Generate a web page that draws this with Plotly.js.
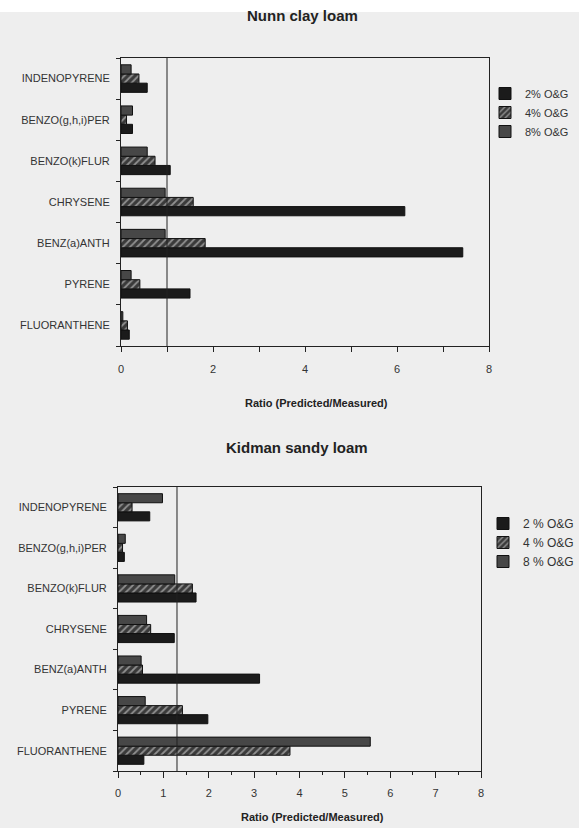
<!DOCTYPE html>
<html>
<head>
<meta charset="utf-8">
<script src="https://cdn.plot.ly/plotly-3.0.1.min.js"></script>
<style>
html,body{margin:0;padding:0;}
body{background:linear-gradient(to bottom,#ffffff 0px,#ffffff 12px,#eeeeee 12px,#eeeeee 100%);width:579px;height:828px;overflow:hidden;}
#chart{width:579px;height:828px;}
</style>
</head>
<body>
<div id="chart"></div>
<script>
// Categories (bottom to top)
const categories = ['FLUORANTHENE','PYRENE','BENZ(a)ANTH','CHRYSENE','BENZO(k)FLUR','BENZO(g,h,i)PER','INDENOPYRENE'];

// Nunn clay loam ratios
const nunn2 = [0.18, 1.50, 7.43, 6.17, 1.07, 0.25, 0.57];
const nunn4 = [0.14, 0.41, 1.83, 1.57, 0.74, 0.12, 0.39];
const nunn8 = [0.04, 0.22, 0.96, 0.96, 0.57, 0.25, 0.22];

// Kidman sandy loam ratios
const kid2 = [0.57, 1.98, 3.12, 1.24, 1.72, 0.14, 0.70];
const kid4 = [3.79, 1.42, 0.54, 0.72, 1.64, 0.10, 0.31];
const kid8 = [5.56, 0.60, 0.51, 0.63, 1.25, 0.16, 0.98];

// Legend labels
const nunnNames = ['2% O&G', '4% O&G', '8% O&G'];
const kidNames = ['2 % O&G', '4 % O&G', '8 % O&G'];

// Reference lines
const nunnRef = 1;
const kidRef = 1.3;

// Axis ticks
const nunnTicks = [0, 2, 4, 6, 8];
const kidTicks = [0, 1, 2, 3, 4, 5, 6, 7, 8];

const FONT = 'Liberation Sans, Arial, Helvetica, sans-serif';
const C2 = '#1b1b1b', C4 = '#3a3a3a', C8 = '#474747';
const LINE = {color: '#111', width: 1};

function mk(vals, name, color, xa, ya, leg, hatched) {
  const m = {color: color, line: LINE};
  if (hatched) m.pattern = {shape: '/', bgcolor: C4, fgcolor: '#909090', size: 5, solidity: 0.35};
  return {type: 'bar', orientation: 'h', x: vals, y: categories, name: name,
          marker: m, xaxis: xa, yaxis: ya, legend: leg, showlegend: true};
}

const data = [
  mk(nunn2, nunnNames[0], C2, 'x', 'y', 'legend', false),
  mk(nunn4, nunnNames[1], C4, 'x', 'y', 'legend', true),
  mk(nunn8, nunnNames[2], C8, 'x', 'y', 'legend', false),
  mk(kid2, kidNames[0], C2, 'x2', 'y2', 'legend2', false),
  mk(kid4, kidNames[1], C4, 'x2', 'y2', 'legend2', true),
  mk(kid8, kidNames[2], C8, 'x2', 'y2', 'legend2', false)
];

const W = 579, H = 828;
const px = v => v / W;
const py = v => 1 - v / H;

const axBase = {showline: true, linecolor: '#222', linewidth: 1, mirror: true, showgrid: false, zeroline: false,
                tickfont: {family: FONT, size: 11, color: '#333'}, tickcolor: '#222'};

const layout = {
  width: W, height: H,
  margin: {l: 0, r: 0, t: 0, b: 0},
  paper_bgcolor: 'rgba(0,0,0,0)',
  plot_bgcolor: '#eeeeee',
  font: {family: FONT, color: '#222'},
  barmode: 'group', bargap: 0.33, bargroupgap: 0,
  xaxis: Object.assign({}, axBase, {domain: [px(121), px(489)], anchor: 'y', range: [0, 8],
    tickvals: nunnTicks, ticks: 'outside', ticklen: 5, ticklabelstandoff: 8,
    minor: {dtick: 1, ticks: 'outside', ticklen: 5, tickcolor: '#222'}}),
  yaxis: Object.assign({}, axBase, {domain: [py(346), py(58)], anchor: 'x', type: 'category',
    tickson: 'boundaries', ticks: 'outside', ticklen: 4, ticklabelstandoff: 8}),
  xaxis2: Object.assign({}, axBase, {domain: [px(118), px(481)], anchor: 'y2', range: [0, 8],
    tickvals: kidTicks, ticks: 'outside', ticklen: 6, ticklabelstandoff: 6,
    minor: {dtick: 0.5, ticks: 'outside', ticklen: 3, tickcolor: '#222'}}),
  yaxis2: Object.assign({}, axBase, {domain: [py(771), py(487)], anchor: 'x2', type: 'category',
    tickson: 'boundaries', ticks: 'outside', ticklen: 4, ticklabelstandoff: 8}),
  legend: {x: px(485), y: py(79), xanchor: 'left', yanchor: 'top', bgcolor: 'rgba(0,0,0,0)',
    traceorder: 'normal', font: {family: FONT, size: 11, color: '#333'}},
  legend2: {x: px(483), y: py(509), xanchor: 'left', yanchor: 'top', bgcolor: 'rgba(0,0,0,0)',
    traceorder: 'normal', font: {family: FONT, size: 12, color: '#333'}},
  shapes: [
    {type: 'line', xref: 'x', yref: 'y domain', x0: nunnRef, x1: nunnRef, y0: 0, y1: 1, line: {color: '#222', width: 1}},
    {type: 'line', xref: 'x2', yref: 'y2 domain', x0: kidRef, x1: kidRef, y0: 0, y1: 1, line: {color: '#222', width: 1}}
  ],
  annotations: [
    {text: '<b>Nunn clay loam</b>', xref: 'paper', yref: 'paper', x: px(302), y: py(16), showarrow: false,
     xanchor: 'center', yanchor: 'middle', font: {family: FONT, size: 15, color: '#222'}},
    {text: '<b>Ratio (Predicted/Measured)</b>', xref: 'paper', yref: 'paper', x: px(316), y: py(403), showarrow: false,
     xanchor: 'center', yanchor: 'middle', font: {family: FONT, size: 11, color: '#222'}},
    {text: '<b>Kidman sandy loam</b>', xref: 'paper', yref: 'paper', x: px(297), y: py(448), showarrow: false,
     xanchor: 'center', yanchor: 'middle', font: {family: FONT, size: 15, color: '#222'}},
    {text: '<b>Ratio (Predicted/Measured)</b>', xref: 'paper', yref: 'paper', x: px(312), y: py(817), showarrow: false,
     xanchor: 'center', yanchor: 'middle', font: {family: FONT, size: 11, color: '#222'}}
  ]
};

Plotly.newPlot('chart', data, layout, {displayModeBar: false, staticPlot: true});
</script>
</body>
</html>
